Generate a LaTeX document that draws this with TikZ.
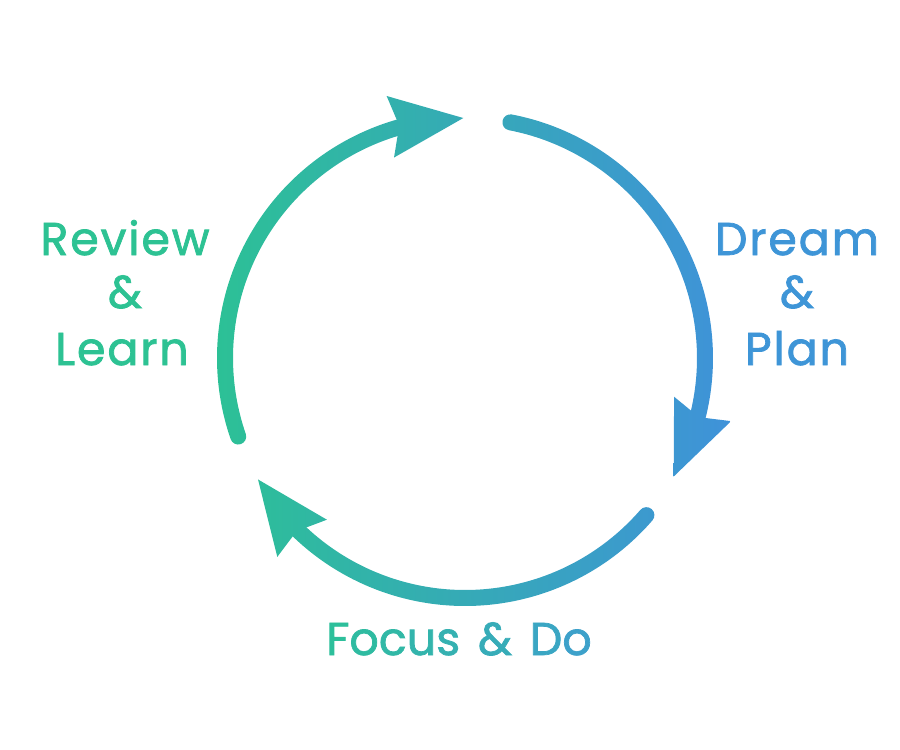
\documentclass[tikz,border=0pt]{standalone}
\usepackage{fontspec}
\setmainfont{Poppins}
\usetikzlibrary{calc}
\definecolor{gl}{HTML}{2CC195}
\definecolor{gr}{HTML}{3F92D9}
\definecolor{rv}{HTML}{2DC293}
\definecolor{dp}{HTML}{3E95D7}
\definecolor{fa}{HTML}{2DBF9B}
\definecolor{fb}{HTML}{3DA1CA}
\tikzset{
  lbl/.style={font=\fontsize{46}{55}\selectfont\addfontfeature{LetterSpace=4,FakeBold=1.6}, inner sep=0pt, anchor=base},
  lblw/.style={font=\fontsize{46}{55}\selectfont\addfontfeature{LetterSpace=12,FakeBold=1.6}, inner sep=0pt, anchor=base},
  grad/.style={left color=gl, right color=gr, draw=none}
}
\begin{document}
\begin{tikzpicture}[x=1pt,y=-1pt]
\useasboundingbox (0,0) rectangle (900,750);
\coordinate (c) at (465,358);
\foreach \k/\s in {0/280.9, 1/40.9, 2/160.9}{
  \pgfmathsetmacro\t{\s+108.7}
  \pgfmathsetmacro\e{\t-12}
  \pgfmathsetmacro\b{\t-17.5}
  % shaft with round start cap
  \begin{scope}
    \clip ($(c)+(\s:248)$) arc[start angle=\s, end angle=\e, radius=248]
      -- ($(c)+(\e:232)$) arc[start angle=\e, end angle=\s, radius=232]
      arc[start angle=\s+180, end angle=\s+360, radius=8] -- cycle;
    \shade[grad] (210,0) rectangle (730,750);
  \end{scope}
  % arrow head
  \coordinate (tip\k) at ($(c)+(\t:240)$);
  \coordinate (bk\k) at ($(c)+(\b:243)$);
  \coordinate (ca\k) at ($(bk\k)!31pt!90:(tip\k)$);
  \coordinate (cb\k) at ($(bk\k)!31pt!-90:(tip\k)$);
  \coordinate (nt\k) at ($(bk\k)!9pt!(tip\k)$);
  \begin{scope}
    \clip (tip\k) -- (ca\k) -- (nt\k) -- (cb\k) -- cycle;
    \shade[grad] (210,0) rectangle (730,750);
  \end{scope}
}
% labels
\node[lbl, text=rv] (rev1) at (125,255) {Review};
\node[lbl, text=rv] (rev2) at (125,308) {\&};
\node[lbl, text=rv] (rev3) at (122,365) {Learn};
\node[lbl, text=dp] (dr1) at (797,255) {Dream};
\node[lbl, text=dp] (dr2) at (797,308) {\&};
\node[lbl, text=dp] (dr3) at (797,365) {Plan};
\node[lblw] (fd) at (459,655) {\textcolor{fa}{F}\textcolor{fb!12!fa}{o}\textcolor{fb!24!fa}{c}\textcolor{fb!36!fa}{u}\textcolor{fb!47!fa}{s} \textcolor{fb!62!fa}{\&} \textcolor{fb!84!fa}{D}\textcolor{fb}{o}};
\end{tikzpicture}
\end{document}
